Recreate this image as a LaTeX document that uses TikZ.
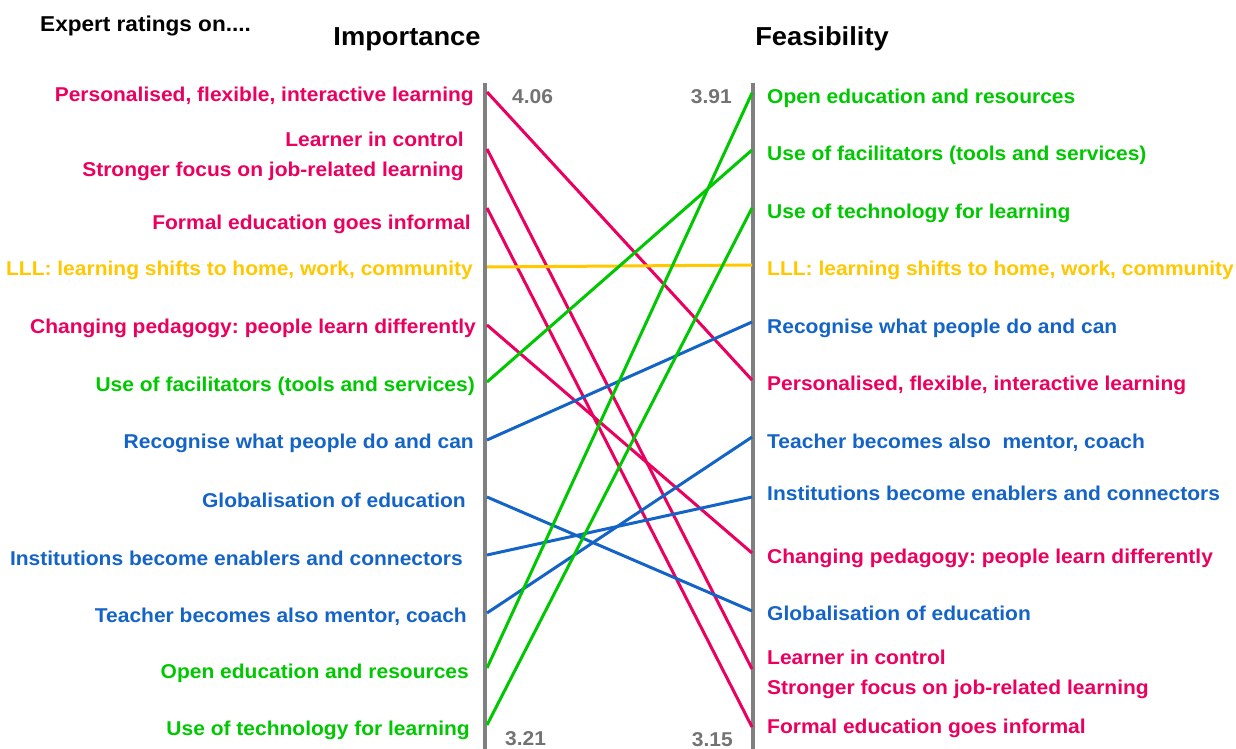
\documentclass[tikz,border=0pt]{standalone}
\usepackage{fontspec}
\setmainfont[FakeStretch=1.05]{Liberation Sans}
\usepackage{xcolor}
\usepackage{tikz}
\usetikzlibrary{positioning}
\frenchspacing
\definecolor{pnk}{RGB}{235,0,95}
\definecolor{grn}{RGB}{0,200,0}
\definecolor{blu}{RGB}{20,100,200}
\definecolor{ylw}{RGB}{255,200,0}
\definecolor{axgray}{RGB}{128,128,128}
\definecolor{numgray}{RGB}{115,115,115}
\tikzstyle{lbl} = [font=\fontsize{20}{30}\selectfont\bfseries, inner sep=0pt]
\tikzstyle{lft} = [lbl, anchor=base east]
\tikzstyle{rgt} = [lbl, anchor=base west]
\tikzstyle{num} = [lbl, numgray]
\tikzstyle{title} = [inner sep=0pt, font=\fontsize{26}{30}\selectfont\bfseries, anchor=base]
\tikzstyle{axisline} = [axgray, line width=4.5pt]
\tikzstyle{link} = [line width=3pt]

\begin{document}
\begin{tikzpicture}[x=1pt,y=-1pt]
    \useasboundingbox (0,0) rectangle (1236,749);
    \clip (0,0) rectangle (1236,749);

    \node[inner sep=0pt, anchor=base west, font=\fontsize{21.5}{25}\selectfont\bfseries] (expert) at (40,32) {Expert ratings on....};
    \node[title] (imp) at (407,46) {Importance};
    \node[title] (fea) at (822,46) {Feasibility};

    \coordinate (imp-top) at (485,83);
    \coordinate (imp-bot) at (485,749);
    \coordinate (fea-top) at (753,83);
    \coordinate (fea-bot) at (753,749);
    \draw[axisline] (imp-top) -- (imp-bot);
    \draw[axisline] (fea-top) -- (fea-bot);

    \node[num, anchor=base west] (imp-max) at (512,103) {4.06};
    \node[num, anchor=base east] (fea-max) at (732,103) {3.91};
    \node[num, anchor=base west] (imp-min) at (505,745) {3.21};
    \node[num, anchor=base east] (fea-min) at (733,746) {3.15};

    \node[lft, pnk] (l-pers) at (474,102) {Personalised, flexible, interactive learning};
    \node[lbl, pnk, anchor=east, align=right] (l-learn) at (464,156) {Learner in control\\Stronger focus on job-related learning};
    \node[lft, pnk] (l-formal) at (471,229) {Formal education goes informal};
    \node[lft, ylw] (l-lll) at (473,275) {LLL: learning shifts to home, work, community};
    \node[lft, pnk] (l-chg) at (476,333) {Changing pedagogy: people learn differently};
    \node[lft, grn] (l-facil) at (475,391) {Use of facilitators (tools and services)};
    \node[lft, blu] (l-recog) at (474,448) {Recognise what people do and can};
    \node[lft, blu] (l-glob) at (466,507) {Globalisation of education};
    \node[lft, blu] (l-inst) at (463,565) {Institutions become enablers and connectors};
    \node[lft, blu] (l-teach) at (467,622) {Teacher becomes also mentor, coach};
    \node[lft, grn] (l-open) at (469,678) {Open education and resources};
    \node[lft, grn] (l-tech) at (470,735) {Use of technology for learning};

    \node[rgt, grn] (r-open) at (767,104) {Open education and resources};
    \node[rgt, grn] (r-facil) at (767,160) {Use of facilitators (tools and services)};
    \node[rgt, grn] (r-tech) at (767,218) {Use of technology for learning};
    \node[rgt, ylw] (r-lll) at (767,275) {LLL: learning shifts to home, work, community};
    \node[rgt, blu] (r-recog) at (767,333) {Recognise what people do and can};
    \node[rgt, pnk] (r-pers) at (767,390) {Personalised, flexible, interactive learning};
    \node[rgt, blu] (r-teach) at (767,448) {Teacher becomes also~ mentor, coach};
    \node[rgt, blu] (r-inst) at (767,500) {Institutions become enablers and connectors};
    \node[rgt, pnk] (r-chg) at (767,563) {Changing pedagogy: people learn differently};
    \node[rgt, blu] (r-glob) at (767,620) {Globalisation of education};
    \node[lbl, pnk, anchor=west, align=left] (r-learn) at (767,674) {Learner in control\\Stronger focus on job-related learning};
    \node[rgt, pnk] (r-formal) at (767,733) {Formal education goes informal};

    \coordinate (i-pers) at (487,92);
    \coordinate (i-learn) at (487,149);
    \coordinate (i-formal) at (487,208);
    \coordinate (i-lll) at (487,267);
    \coordinate (i-chg) at (487,325);
    \coordinate (i-facil) at (487,382);
    \coordinate (i-recog) at (487,440);
    \coordinate (i-glob) at (487,497);
    \coordinate (i-inst) at (487,555);
    \coordinate (i-teach) at (487,613);
    \coordinate (i-open) at (487,668);
    \coordinate (i-tech) at (487,725);

    \coordinate (f-open) at (752,93);
    \coordinate (f-facil) at (752,150);
    \coordinate (f-tech) at (752,208);
    \coordinate (f-lll) at (752,265);
    \coordinate (f-recog) at (752,322);
    \coordinate (f-pers) at (752,380);
    \coordinate (f-teach) at (752,437);
    \coordinate (f-inst) at (752,497);
    \coordinate (f-chg) at (752,553);
    \coordinate (f-glob) at (752,611);
    \coordinate (f-learn) at (752,669);
    \coordinate (f-formal) at (752,727);

    \draw[link, pnk] (i-pers) -- (f-pers);
    \draw[link, pnk] (i-learn) -- (f-learn);
    \draw[link, pnk] (i-formal) -- (f-formal);
    \draw[link, ylw] (i-lll) -- (f-lll);
    \draw[link, pnk] (i-chg) -- (f-chg);
    \draw[link, grn] (i-facil) -- (f-facil);
    \draw[link, blu] (i-recog) -- (f-recog);
    \draw[link, blu] (i-glob) -- (f-glob);
    \draw[link, blu] (i-inst) -- (f-inst);
    \draw[link, blu] (i-teach) -- (f-teach);
    \draw[link, grn] (i-open) -- (f-open);
    \draw[link, grn] (i-tech) -- (f-tech);
\end{tikzpicture}
\end{document}
